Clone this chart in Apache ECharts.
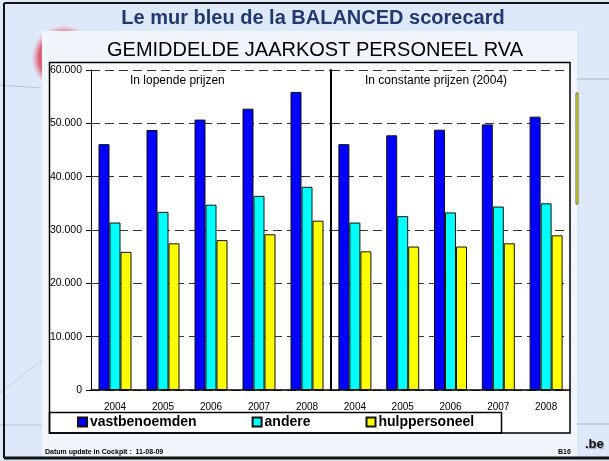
<!DOCTYPE html>
<html>
<head>
<meta charset="utf-8">
<script src="https://cdn.jsdelivr.net/npm/echarts@6/dist/echarts.min.js"></script>
<style>
  html, body { margin: 0; padding: 0; background: #dde9f9; }
  #chart { width: 609px; height: 461px; }
</style>
</head>
<body>
<div id="chart"></div>
<script>
const years = ['2004', '2005', '2006', '2007', '2008']
const seriesNames = ['vastbenoemden', 'andere', 'hulppersoneel']

// in lopende prijzen
const lopendeVast = [46100, 48750, 50700, 52750, 55900]
const lopendeAndere = [31400, 33400, 34750, 36400, 38100]
const lopendeHulp = [25900, 27500, 28100, 29200, 31750]

// in constante prijzen (2004)
const constanteVast = [46100, 47750, 48800, 49800, 51250]
const constanteAndere = [31400, 32600, 33300, 34400, 35000]
const constanteHulp = [26000, 26900, 26900, 27500, 29000]

const yMax = 60000
const yStep = 10000

const colors = ['#0000ff', '#00ffff', '#ffff00']
const font = "'Liberation Sans', Arial, sans-serif"

const chart = echarts.init(document.getElementById('chart'))

const barSeries = (name, color, data, gridIdx) => ({
  name,
  type: 'bar',
  xAxisIndex: gridIdx,
  yAxisIndex: gridIdx,
  barWidth: 11,
  barGap: '0%',
  itemStyle: { color, borderColor: '#111', borderWidth: 1 },
  data,
})

const splitLine = {
  show: true,
  lineStyle: { color: '#333', type: [9, 5], width: 1 },
}

chart.setOption({
  backgroundColor: '#dde9f9',
  animation: false,
  textStyle: { fontFamily: font },
  title: [
    {
      text: 'Le mur bleu de la BALANCED scorecard',
      left: 308,
      top: 3,
      textAlign: 'center',
      textStyle: { fontSize: 20, fontWeight: 'bold', color: '#22386f', fontFamily: font },
    },
    {
      text: 'GEMIDDELDE JAARKOST PERSONEEL RVA',
      left: 310,
      top: 35,
      textAlign: 'center',
      textStyle: { fontSize: 20, fontWeight: 'normal', color: '#000', fontFamily: font },
    },
  ],
  graphic: [
    // faint logo behind the panel
    {
      type: 'circle',
      z: -30,
      shape: { cx: 64, cy: 58, r: 32 },
      style: {
        fill: new echarts.graphic.RadialGradient(0.5, 0.5, 0.5, [
          { offset: 0, color: 'rgba(200,20,40,0.95)' },
          { offset: 0.8, color: 'rgba(220,60,80,0.75)' },
          { offset: 1, color: 'rgba(240,150,170,0.15)' },
        ]),
      },
    },
    { type: 'line', z: -30, shape: { x1: 0, y1: 85, x2: 42, y2: 88 }, style: { stroke: '#b8c4d4', lineWidth: 1 } },
    { type: 'line', z: -30, shape: { x1: 0, y1: 425, x2: 42, y2: 425 }, style: { stroke: '#b8c4d4', lineWidth: 1 } },
    { type: 'line', z: -30, shape: { x1: 0, y1: 393, x2: 42, y2: 360 }, style: { stroke: '#c4cfdc', lineWidth: 1 } },
    { type: 'line', z: -30, shape: { x1: 577, y1: 79, x2: 609, y2: 79 }, style: { stroke: '#a9b6c6', lineWidth: 1 } },
    { type: 'line', z: -30, shape: { x1: 577, y1: 424, x2: 609, y2: 424 }, style: { stroke: '#a9b6c6', lineWidth: 1 } },
    // light panel
    {
      type: 'rect', z: -20,
      shape: { x: 42, y: 31, width: 535, height: 426 },
      style: { fill: '#f1f6fd' },
    },
    // yellow side bar
    {
      type: 'rect', z: -20,
      shape: { x: 576, y: 93, width: 2, height: 111 },
      style: { fill: '#ffff00', stroke: '#6b6b3a', lineWidth: 1 },
    },
    // chart box
    {
      type: 'rect', z: -10,
      shape: { x: 49.5, y: 62.5, width: 520.5, height: 370.5 },
      style: { fill: '#fff', stroke: '#000', lineWidth: 1.5 },
    },
    // legend box
    {
      type: 'rect', z: 5,
      shape: { x: 49.5, y: 412.5, width: 452, height: 20.5 },
      style: { fill: 'none', stroke: '#000', lineWidth: 1.5 },
    },
    {
      type: 'text', z: 5, left: 130, top: 75,
      style: { text: 'In lopende prijzen', font: `12px ${font}`, fill: '#000' },
    },
    {
      type: 'text', z: 5, left: 365, top: 75,
      style: { text: 'In constante prijzen (2004)', font: `12px ${font}`, fill: '#000' },
    },
    // footer
    {
      type: 'text', z: 5, left: 45, top: 449,
      style: { text: 'Datum update in Cockpit :  11-08-09', font: `bold 7px ${font}`, fill: '#000' },
    },
    {
      type: 'text', z: 5, left: 558, top: 449,
      style: { text: 'B16', font: `bold 7px ${font}`, fill: '#000' },
    },
    {
      type: 'text', z: 5, left: 585, top: 438,
      style: {
        text: '.be', font: `bold 13px ${font}`, fill: '#111',
        textShadowColor: 'rgba(0,0,0,0.35)', textShadowOffsetX: 1, textShadowOffsetY: 1, textShadowBlur: 1,
      },
    },
    // slide border
    { type: 'line', z: 6, shape: { x1: 4, y1: 3, x2: 609, y2: 3 }, style: { stroke: '#111', lineWidth: 2 } },
    { type: 'line', z: 6, shape: { x1: 4, y1: 3, x2: 4, y2: 458 }, style: { stroke: '#111', lineWidth: 2 } },
    { type: 'line', z: 6, shape: { x1: 4, y1: 458, x2: 609, y2: 458 }, style: { stroke: '#111', lineWidth: 3 } },
  ],
  legend: {
    data: seriesNames,
    left: 77,
    top: 415,
    padding: 0,
    itemGap: 55,
    itemWidth: 9,
    itemHeight: 9,
    icon: 'rect',
    textStyle: { fontSize: 14, fontWeight: 'bold', color: '#000', fontFamily: font, padding: [0, 0, 0, -2] },
  },
  grid: [
    { left: 91, top: 70, width: 240, height: 320 },
    { left: 331, top: 70, width: 239, height: 320 },
  ],
  xAxis: [0, 1].map((i) => ({
    type: 'category',
    gridIndex: i,
    data: years,
    axisLine: { show: true, lineStyle: { color: '#000', width: 1.5 } },
    axisTick: { show: false },
    axisLabel: { color: '#000', fontSize: 10, margin: 12, fontFamily: font },
  })),
  yAxis: [
    {
      type: 'value',
      gridIndex: 0,
      min: 0,
      max: yMax,
      interval: yStep,
      axisLine: { show: true, lineStyle: { color: '#000', width: 1 } },
      axisTick: { show: true, length: 5, lineStyle: { color: '#000' } },
      axisLabel: {
        color: '#000',
        fontSize: 10.5,
        margin: 9,
        fontFamily: font,
        formatter: (v) => (v === 0 ? '0' : v / 1000 + '.000'),
      },
      splitLine,
    },
    {
      type: 'value',
      gridIndex: 1,
      min: 0,
      max: yMax,
      interval: yStep,
      axisLine: { show: true, lineStyle: { color: '#000', width: 2 } },
      axisTick: { show: false },
      axisLabel: { show: false },
      splitLine,
    },
  ],
  series: [
    barSeries(seriesNames[0], colors[0], lopendeVast, 0),
    barSeries(seriesNames[1], colors[1], lopendeAndere, 0),
    barSeries(seriesNames[2], colors[2], lopendeHulp, 0),
    barSeries(seriesNames[0], colors[0], constanteVast, 1),
    barSeries(seriesNames[1], colors[1], constanteAndere, 1),
    barSeries(seriesNames[2], colors[2], constanteHulp, 1),
  ],
})
</script>
</body>
</html>
